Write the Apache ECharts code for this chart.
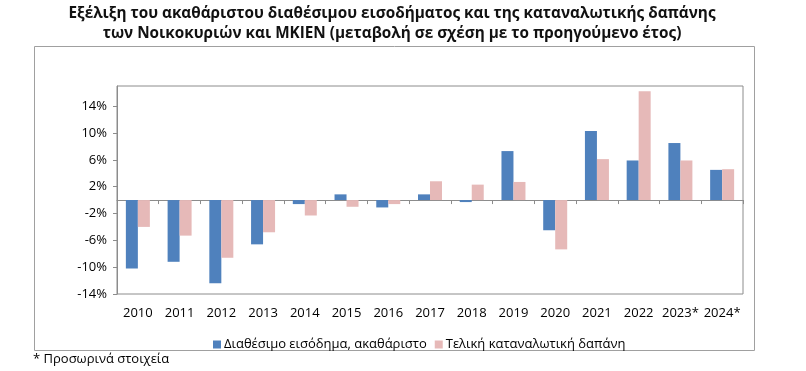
<!DOCTYPE html>
<html><head><meta charset="utf-8">
<script src="https://cdn.jsdelivr.net/npm/echarts@6/dist/echarts.min.js"></script>
<style>html,body{margin:0;padding:0;background:#fff}#c{width:806px;height:371px}</style>
</head><body><div id="c"></div>
<script>
const years = ['2010','2011','2012','2013','2014','2015','2016','2017','2018','2019','2020','2021','2022','2023*','2024*'];
const disposableIncome = [-10.2,-9.2,-12.4,-6.6,-0.6,0.85,-1.1,0.85,-0.3,7.3,-4.5,10.3,5.9,8.5,4.5];
const finalConsumption = [-4.0,-5.3,-8.6,-4.8,-2.3,-1.0,-0.6,2.8,2.3,2.7,-7.35,6.1,16.2,5.9,4.6];
const yTicks = [-14,-10,-6,-2,2,6,10,14];
const seriesNames = ['Διαθέσιμο εισόδημα, ακαθάριστο','Τελική καταναλωτική δαπάνη'];
const titleLines = ['Εξέλιξη του ακαθάριστου διαθέσιμου εισοδήματος και της καταναλωτικής δαπάνης','των Νοικοκυριών και ΜΚΙΕΝ (μεταβολή σε σχέση με το προηγούμενο έτος)'];
const footnote = '* Προσωρινά στοιχεία';

const FONT = 'Open Sans';
const chart = echarts.init(document.getElementById('c'), null, {renderer:'canvas'});
chart.setOption({
  animation:false,
  textStyle:{fontFamily:FONT},
  graphic:[
    {type:'text', x:392, y:4, style:{text:titleLines.join('\n'), align:'center', verticalAlign:'top', font:'bold 15.3px "Open Sans"', lineHeight:20, fill:'#111'}, silent:true},
    {type:'rect', left:32, top:44, shape:{width:720, height:304}, style:{fill:'none', stroke:'#a0a0a0', lineWidth:1}, silent:true},
    {type:'text', left:33, top:353, style:{text:footnote, font:'13px "Open Sans"', fill:'#000'}}
  ],
  legend:{
    data:seriesNames, left:208, top:333, itemWidth:8, itemHeight:8, itemGap:8, icon:'rect',
    textStyle:{fontFamily:FONT, fontSize:13, color:'#000', padding:[0,0,0,-2]}
  },
  grid:{left:117, right:63, top:86, bottom:77, show:true, borderColor:'#8c8c8c', borderWidth:1, backgroundColor:'transparent'},
  xAxis:[
    {type:'category', data:years, position:'bottom',
     axisLine:{onZero:true, lineStyle:{color:'#8c8c8c', width:1}},
     axisTick:{show:true, interval:0, length:4, lineStyle:{color:'#8c8c8c'}},
     axisLabel:{show:false}},
    {type:'category', data:years, position:'bottom',
     axisLine:{show:false, onZero:false}, axisTick:{show:false},
     axisLabel:{interval:0, fontSize:13, color:'#000', margin:13, fontFamily:FONT}}
  ],
  yAxis:{
    type:'value', min:-14, max:17,
    axisLine:{show:true, lineStyle:{color:'#8c8c8c'}},
    axisTick:{show:true, length:4, lineStyle:{color:'#8c8c8c'}, customValues:yTicks},
    axisLabel:{customValues:yTicks, formatter:v=>v+'%', fontSize:13, color:'#000', margin:10, fontFamily:FONT},
    splitLine:{show:false}
  },
  series:[
    {name:seriesNames[0], type:'bar', xAxisIndex:0, data:disposableIncome, barWidth:12, barGap:'0%', itemStyle:{color:'#4F81BD'}},
    {name:seriesNames[1], type:'bar', xAxisIndex:0, data:finalConsumption, barWidth:12, barGap:'0%', itemStyle:{color:'#E6B9B8'}}
  ]
});
</script></body></html>
